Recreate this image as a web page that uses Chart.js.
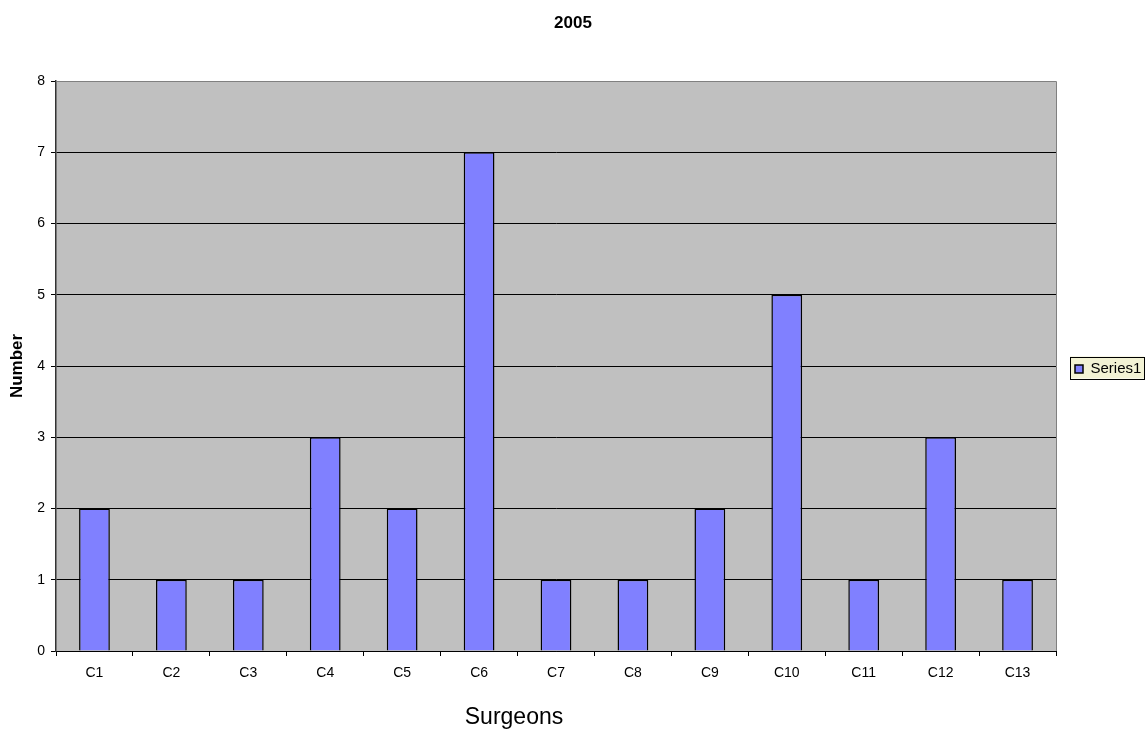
<!DOCTYPE html>
<html>
<head>
<meta charset="utf-8">
<script src="https://cdn.jsdelivr.net/npm/chart.js@4"></script>
<style>
  html, body { margin: 0; padding: 0; background: #ffffff; }
  #wrap { width: 1146px; height: 738px; }
</style>
</head>
<body>
<div id="wrap"><canvas id="c" width="1146" height="738"></canvas></div>
<script>
const chartTitle = '2005';
const yAxisTitle = 'Number';
const xAxisTitle = 'Surgeons';
const seriesName = 'Series1';
const categories = ['C1','C2','C3','C4','C5','C6','C7','C8','C9','C10','C11','C12','C13'];
const values = [2, 1, 1, 3, 2, 7, 1, 1, 2, 5, 1, 3, 1];
const yMin = 0;
const yMax = 8;
const yStep = 1;

const FONT = "'Liberation Sans', Arial, Helvetica, sans-serif";
Chart.defaults.font.family = FONT;
Chart.defaults.color = '#000000';

const plotBg = {
  id: 'plotBg',
  beforeDraw(chart) {
    const {ctx, chartArea: a} = chart;
    ctx.save();
    ctx.fillStyle = '#c0c0c0';
    ctx.fillRect(a.left, a.top, a.right - a.left, a.bottom - a.top);
    const lg = chart.legend;
    if (lg && lg.legendHitBoxes && lg.legendHitBoxes.length) {
      const hb = lg.legendHitBoxes[0];
      const x0 = hb.left - 5, y0 = hb.top - 5;
      ctx.fillStyle = '#f2f2d4';
      ctx.fillRect(x0, y0, 74, 22);
      ctx.strokeStyle = '#000000';
      ctx.lineWidth = 1;
      ctx.strokeRect(Math.round(x0) + 0.5, Math.round(y0) + 0.5, 74, 22);
    }
    ctx.restore();
  },
  beforeDatasetsDraw(chart) {
    const {ctx, chartArea: a} = chart;
    ctx.save();
    ctx.strokeStyle = '#808080';
    ctx.lineWidth = 1;
    ctx.beginPath();
    ctx.moveTo(a.left, Math.round(a.top) + 0.5);
    ctx.lineTo(Math.round(a.right) + 0.5, Math.round(a.top) + 0.5);
    ctx.lineTo(Math.round(a.right) + 0.5, a.bottom);
    ctx.stroke();
    ctx.restore();
  },
  afterDraw(chart) {
    const {ctx} = chart;
    ctx.save();
    ctx.font = "23px " + FONT;
    ctx.fillStyle = '#000000';
    ctx.textAlign = 'center';
    ctx.textBaseline = 'alphabetic';
    ctx.fillText(xAxisTitle, 514, 724);
    ctx.restore();
  }
};

new Chart(document.getElementById('c'), {
  type: 'bar',
  data: {
    labels: categories,
    datasets: [{
      label: seriesName,
      data: values,
      backgroundColor: '#8080ff',
      borderColor: '#000000',
      borderWidth: 1.5,
      barPercentage: 0.4,
      categoryPercentage: 1.0
    }]
  },
  options: {
    responsive: false,
    devicePixelRatio: 1,
    animation: false,
    layout: { padding: { left: 0, right: 0, top: 0, bottom: 0 } },
    plugins: {
      title: {
        display: true,
        text: chartTitle,
        font: { size: 17, weight: 'bold' },
        color: '#000000',
        padding: { top: 13, bottom: 47.6 }
      },
      legend: {
        display: true,
        position: 'right',
        align: 'center',
        maxWidth: 90,
        labels: {
          boxWidth: 8,
          boxHeight: 8,
          padding: 19,
          color: '#000000',
          font: { size: 15 }
        }
      },
      tooltip: { enabled: false }
    },
    scales: {
      x: {
        grid: {
          display: true,
          drawOnChartArea: false,
          drawTicks: true,
          tickLength: 5,
          color: '#000000',
          offset: true
        },
        border: { display: true, color: '#000000', width: 1 },
        ticks: { font: { size: 14 }, color: '#000000', padding: 9, maxRotation: 0 },
        afterFit(scale) { scale.height = 87; }
      },
      y: {
        min: yMin,
        max: yMax,
        ticks: { stepSize: yStep, font: { size: 14 }, color: '#000000', padding: 6 },
        grid: {
          color: (c) => (c.tick && c.tick.value === yMax) ? '#808080' : '#000000',
          tickColor: '#000000',
          tickLength: 5,
          lineWidth: 1
        },
        border: { display: true, color: '#333333', width: 1.5 },
        title: {
          display: true,
          text: yAxisTitle,
          font: { size: 17, weight: 'bold' },
          color: '#000000',
          padding: { top: 7, bottom: 0 }
        },
        afterFit(scale) { scale.width = 56; }
      }
    }
  },
  plugins: [plotBg]
});
</script>
</body>
</html>
